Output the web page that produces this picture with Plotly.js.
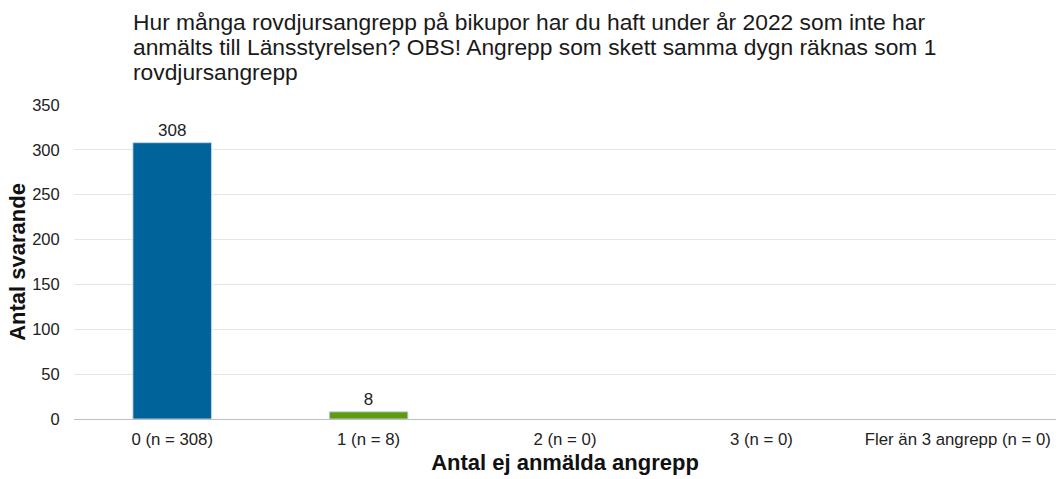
<!DOCTYPE html>
<html>
<head>
<meta charset="utf-8">
<script src="https://cdn.plot.ly/plotly-3.0.1.min.js"></script>
<style>html,body{margin:0;padding:0;background:#fff;}#chart{width:1060px;height:479px;}</style>
</head>
<body>
<div id="chart"></div>
<script>
var categories = ["0 (n = 308)", "1 (n = 8)", "2 (n = 0)", "3 (n = 0)", "Fler än 3 angrepp (n = 0)"];
var values = [308, 8, 0, 0, 0];
var barColors = ["#006399", "#5f9b0f", "#006399", "#006399", "#006399"];
var yTicks = [0, 50, 100, 150, 200, 250, 300, 350];
var titleLines = [
  "Hur många rovdjursangrepp på bikupor har du haft under år 2022 som inte har",
  "anmälts till Länsstyrelsen? OBS! Angrepp som skett samma dygn räknas som 1",
  "rovdjursangrepp"
];

var FONT = "Liberation Sans, Arial, sans-serif";

var trace = {
  type: "bar",
  x: categories,
  y: values,
  width: 0.4,
  marker: {color: barColors, line: {color: values.map(function(v){return v > 0 ? "rgba(190,215,235,0.9)" : "rgba(0,0,0,0)";}), width: 1}},
  text: values.map(function(v){ return v > 0 ? String(v) : ""; }),
  textposition: "outside",
  cliponaxis: false,
  textfont: {family: FONT, size: 17, color: "#222"},
  hoverinfo: "none"
};

var titleY = [1.264, 1.185, 1.105];
var annotations = titleLines.map(function(t, i){
  return {
    text: t, xref: "paper", yref: "paper", x: 0.058, y: titleY[i],
    xanchor: "left", yanchor: "middle", showarrow: false,
    font: {family: FONT, size: 22.8, color: "#1a1a1a"}
  };
});

var layout = {
  width: 1060, height: 479,
  margin: {l: 74, r: 4, t: 105, b: 60},
  paper_bgcolor: "#fff", plot_bgcolor: "#fff",
  font: {family: FONT, color: "#333"},
  showlegend: false,
  annotations: annotations,
  xaxis: {
    type: "category",
    showline: true, linecolor: "#bfbfbf", linewidth: 1,
    ticks: "outside", ticklen: 5, tickcolor: "rgba(0,0,0,0)",
    tickfont: {size: 16.8, color: "#222"},
    title: {text: "<b>Antal ej anmälda angrepp</b>", font: {size: 22, color: "#111"}, standoff: 6}
  },
  yaxis: {
    range: [0, 350], tickvals: yTicks,
    showgrid: true, gridcolor: "#e6e6e6", gridwidth: 1,
    zeroline: false, showline: false,
    ticks: "outside", ticklen: 10, tickcolor: "rgba(0,0,0,0)",
    tickfont: {size: 16.5, color: "#222"},
    title: {text: "<b>Antal svarande</b>", font: {size: 22, color: "#111"}, standoff: 0}
  },
  bargap: 0.6
};

Plotly.newPlot("chart", [trace], layout, {displayModeBar: false, staticPlot: true});
</script>
</body>
</html>
